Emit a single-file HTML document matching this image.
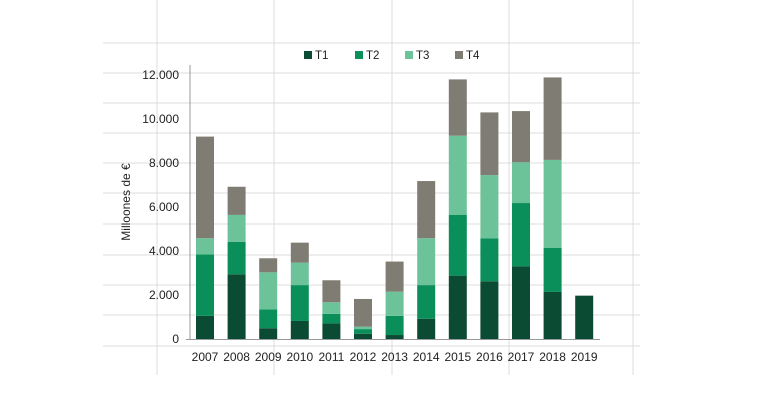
<!DOCTYPE html>
<html><head><meta charset="utf-8"><style>
body{margin:0;background:#fff;}
svg{display:block;font-family:"Liberation Sans",sans-serif;}
</style></head><body>
<svg id="chart" width="770" height="410">
<g id="grid"></g>
<g id="bars"></g>
<g id="axes"></g>
<text x="130" y="202" font-size="12" fill="#222" text-anchor="middle" transform="rotate(-90 130 202)">Milloones de €</text>
<g>
<g><rect x="304" y="51" width="8" height="8" fill="#0b4a33"/><text x="315" y="59" font-size="11.5" fill="#222">T1</text></g>
<g><rect x="355" y="51" width="8" height="8" fill="#0a8f5a"/><text x="366" y="59" font-size="11.5" fill="#222">T2</text></g>
<g><rect x="405" y="51" width="8" height="8" fill="#6cc39a"/><text x="416" y="59" font-size="11.5" fill="#222">T3</text></g>
<g><rect x="455" y="51" width="8" height="8" fill="#7f7d73"/><text x="466" y="59" font-size="11.5" fill="#222">T4</text></g>
</g>
</svg>
<script>
const categories=["2007","2008","2009","2010","2011","2012","2013","2014","2015","2016","2017","2018","2019"];
const t1=[1050,2940,490,820,710,240,180,920,2880,2620,3300,2140,1970];
const t2=[2800,1480,860,1630,430,210,870,1530,2770,1960,2880,2010,0];
const t3=[730,1220,1680,1020,530,110,1100,2130,3590,2870,1850,3990,0];
const t4=[4620,1280,640,910,1000,1260,1370,2600,2560,2850,2330,3750,0];
const yTicks=[0,2000,4000,6000,8000,10000,12000];
const yTickLabels=["0","2.000","4.000","6.000","8.000","10.000","12.000"];
const series=[t1,t2,t3,t4];
const colors=["#0b4a33","#0a8f5a","#6cc39a","#7f7d73"];
const NS="http://www.w3.org/2000/svg";
const y=v=>339-v*264/12000;
const x=i=>196+i*31.6;
const bw=18;
function mk(tag,attrs,parent){const e=document.createElementNS(NS,tag);for(const k in attrs)e.setAttribute(k,attrs[k]);parent.appendChild(e);return e;}
const grid=document.getElementById('grid');
[43,73,103,133,163,193,224,255,285,315,346].forEach(gy=>{
 const l=mk('line',{x1:103,x2:640,y1:gy,y2:gy,stroke:'#dcdcdc','stroke-width':1},grid);
 
 
});
[157,274,392,509,633].forEach(gx=>{
 const l=mk('line',{x1:gx,x2:gx,y1:0,y2:375,stroke:'#dcdcdc','stroke-width':1},grid);
 
 
});
const bars=document.getElementById('bars');
categories.forEach((c,i)=>{
 let cum=0;
 series.forEach((s,k)=>{
  const v=s[i]; if(!v) return;
  const r=mk('rect',{x:x(i),y:y(cum+v),width:bw,height:y(cum)-y(cum+v),fill:colors[k]},bars);
  
  
  cum+=v;
 });
});
const axes=document.getElementById('axes');
const ya=mk('line',{x1:190,x2:190,y1:65,y2:339,stroke:'#999'},axes);


const xa=mk('line',{x1:186,x2:600,y1:339.5,y2:339.5,stroke:'#999'},axes);


yTicks.forEach((t,i)=>{
 const tx=mk('text',{x:179,y:y(t)+4,'font-size':12,'text-anchor':'end',fill:'#222'},axes);
 tx.textContent=yTickLabels[i];
 
 
});
categories.forEach((c,i)=>{
 const tx=mk('text',{x:x(i)+bw/2,y:361,'font-size':12,'text-anchor':'middle',fill:'#222'},axes);
 tx.textContent=c;
 
 
});
</script>
</body></html>
